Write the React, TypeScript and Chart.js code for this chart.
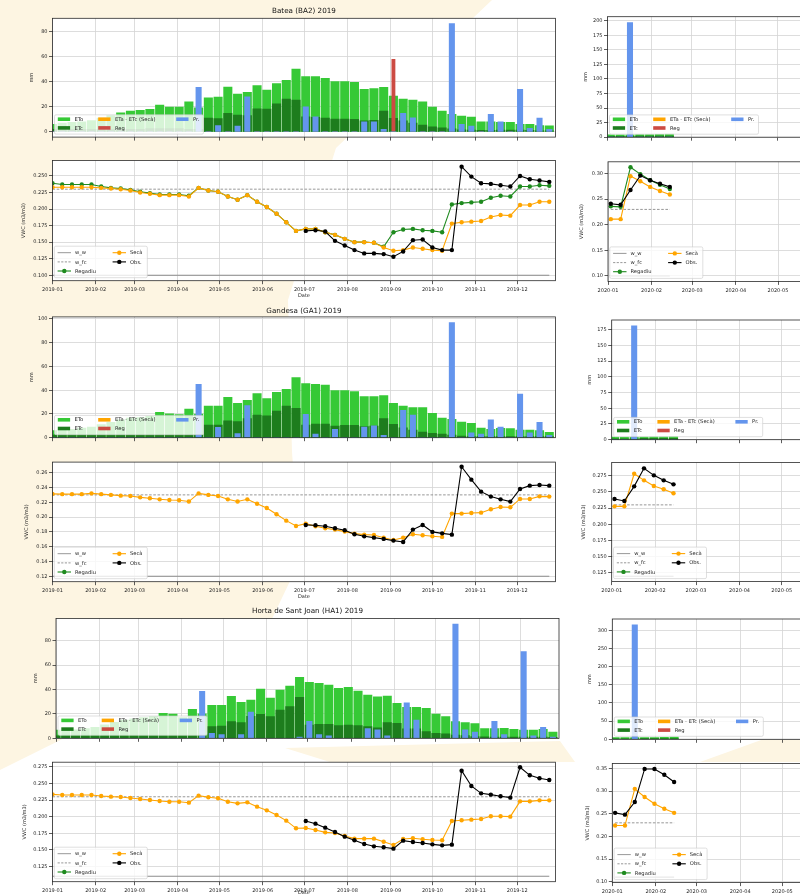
import React, { useEffect, useRef } from "react";
import { Chart, registerables } from "chart.js";

Chart.register(...registerables);

const FONT = "'DejaVu Sans', 'Liberation Sans', Arial, sans-serif";
const TICK_SIZE = 5;
const LEGEND_SIZE = 5.2;
const TITLE_SIZE = 7.2;
const TEXT_COLOR = "#262626";
const GRID_COLOR = "#d4d4d4";
const TICK_COLOR = "#333333";
const FRAME_COLOR = "#2a2a2a";
const CREAM = "#fdf5e2";

const ETO_COLOR = "#36c936";
const ETC_COLOR = "#1d7d1d";
const ETA_COLOR = "#ffa500";
const REG_COLOR = "#cc4b43";
const PR_COLOR = "#6495ed";
const SECA_COLOR = "#ffa500";
const REGADIU_COLOR = "#1e8a1e";
const OBS_COLOR = "#000000";
const W_COLOR = "#8c8c8c";

// ---------- x positions: days since 1 January ----------
const WEEKS_2019 = [0, 7, 14, 21, 28, 35, 42, 49, 56, 63, 70, 77, 84, 91, 98, 105, 112, 119, 126, 133, 140, 147, 154, 161, 168, 175, 182, 189, 196, 203, 210, 217, 224, 231, 238, 245, 252, 259, 266, 273, 280, 287, 294, 301, 308, 315, 322, 329, 336, 343, 350, 357];
const WEEKS_2020 = [2, 9, 16, 23, 30, 37, 44];

const MONTH_TICKS_2019 = [0, 31, 59, 90, 120, 151, 181, 212, 243, 273, 304, 334];
const MONTH_LABELS_2019 = ["2019-01", "2019-02", "2019-03", "2019-04", "2019-05", "2019-06", "2019-07", "2019-08", "2019-09", "2019-10", "2019-11", "2019-12"];
const MONTH_TICKS_2020 = [0, 31, 60, 91, 121];
const MONTH_LABELS_2020 = ["2020-01", "2020-02", "2020-03", "2020-04", "2020-05"];
const X_RANGE_2019 = [0, 361.4];
const X_RANGE_2020 = [0, 160];

// ---------- Batea (BA2) ----------
const BATEA_ETO = [6, 7, 7.5, 8, 9, 11, 13, 15.2, 16.6, 17.1, 17.9, 21.4, 19.8, 19.8, 24, 19.2, 27.2, 27.7, 35.7, 30.1, 31.5, 36.8, 33.3, 38.4, 41.1, 50.1, 44, 44, 42.7, 40, 40, 39.5, 33.9, 34.4, 35.5, 28.5, 26.1, 25.3, 24, 19.7, 16.5, 13.9, 12.5, 11.7, 8, 8, 7.5, 7.5, 5.9, 5.9, 5, 4.8];
const BATEA_ETC = [2, 2, 2, 2, 2, 2, 2, 2, 2, 2, 2.5, 2.5, 2.5, 2.5, 2, 2, 11, 10.5, 14.7, 13.3, 13, 18.4, 18.1, 22.4, 26.1, 25.3, 12, 11.5, 10.9, 10.1, 10.1, 9.9, 8.8, 9.1, 16.5, 10.7, 8.8, 6.9, 5.3, 4, 3.2, 2.4, 1.6, 1.3, 1.1, 1.1, 1.3, 1.3, 1.3, 1.1, 0.8, 0.8];
const BATEA_PR = [0, 0, 0, 0, 0, 0, 0, 0, 0, 0, 0, 0, 0, 0, 0, 35.5, 0, 5, 0, 4.5, 28, 0, 0, 0, 0, 0, 20, 12, 0, 0, 0, 0, 8, 8, 2, 0, 14.7, 11.2, 0, 0, 0, 86.4, 6, 4.5, 0, 13.9, 8, 0, 33.9, 2.7, 10.9, 1.9];
const BATEA_REG = [0, 0, 0, 0, 0, 0, 0, 0, 0, 0, 0, 0, 0, 0, 0, 0, 0, 0, 0, 0, 0, 0, 0, 0, 0, 0, 0, 0, 0, 0, 0, 0, 0, 0, 0, 57.9, 0, 0, 0, 0, 0, 0, 0, 0, 0, 0, 0, 0, 0, 0, 0, 0];
const BATEA_BAR_RANGE = [-4.3, 90.7];
const BATEA_BAR_TICKS = [0, 20, 40, 60, 80];

const BATEA_SECA = [0.233, 0.233, 0.233, 0.233, 0.233, 0.232, 0.231, 0.23, 0.228, 0.225, 0.223, 0.221, 0.221, 0.221, 0.219, 0.232, 0.228, 0.226, 0.219, 0.214, 0.221, 0.211, 0.203, 0.193, 0.18, 0.167, 0.17, 0.17, 0.165, 0.161, 0.155, 0.15, 0.15, 0.149, 0.142, 0.137, 0.138, 0.142, 0.14, 0.138, 0.137, 0.178, 0.18, 0.181, 0.182, 0.188, 0.191, 0.19, 0.206, 0.206, 0.211, 0.211];
const BATEA_REGADIU = [0.239, 0.237, 0.237, 0.237, 0.237, 0.234, 0.232, 0.231, 0.229, 0.226, 0.224, 0.222, 0.222, 0.222, 0.22, 0.232, 0.228, 0.226, 0.219, 0.214, 0.221, 0.211, 0.203, 0.193, 0.18, 0.167, 0.17, 0.17, 0.165, 0.161, 0.155, 0.15, 0.15, 0.149, 0.143, 0.165, 0.169, 0.17, 0.168, 0.167, 0.165, 0.207, 0.209, 0.21, 0.211, 0.217, 0.22, 0.219, 0.234, 0.234, 0.236, 0.235];
const BATEA_OBS = [null, null, null, null, null, null, null, null, null, null, null, null, null, null, null, null, null, null, null, null, null, null, null, null, null, null, 0.167, 0.168, 0.166, 0.152, 0.145, 0.138, 0.133, 0.133, 0.132, 0.128, 0.136, 0.153, 0.154, 0.142, 0.138, 0.138, 0.264, 0.249, 0.239, 0.238, 0.236, 0.234, 0.25, 0.245, 0.243, 0.241];
const BATEA_W_W = 0.1;
const BATEA_W_FC = 0.23;
const BATEA_VWC_RANGE = [0.0918, 0.2733];
const BATEA_VWC_TICKS = [0.1, 0.125, 0.15, 0.175, 0.2, 0.225, 0.25];

const BATEA_2020_ETO = [4, 4, 4, 4.5, 4.5, 5, 5.5];
const BATEA_2020_ETC = [1.5, 1.5, 1.5, 2, 2, 2, 2];
const BATEA_2020_PR = [0, 0, 197, 0, 0, 0, 0];
const BATEA_2020_BAR_RANGE = [0, 206.9];
const BATEA_2020_BAR_TICKS = [0, 25, 50, 75, 100, 125, 150, 175, 200];
const BATEA_2020_REGADIU = [0.236, 0.235, 0.3125, 0.299, 0.287, 0.278, 0.27];
const BATEA_2020_SECA = [0.211, 0.211, 0.295, 0.285, 0.274, 0.266, 0.259];
const BATEA_2020_OBS = [0.241, 0.239, 0.268, 0.296, 0.287, 0.28, 0.274];
const BATEA_2020_VWC_RANGE = [0.0894, 0.323];
const BATEA_2020_VWC_TICKS = [0.1, 0.15, 0.2, 0.25, 0.3];

// ---------- Gandesa (GA1) ----------
const GANDESA_ETO = [6, 6.5, 7, 8, 9, 11, 13, 15, 16.5, 17, 18, 21.3, 20.2, 19.5, 24.2, 20, 26.7, 26.7, 34, 28.9, 31.5, 37.1, 32.9, 38.2, 40.7, 50.6, 45.5, 45, 44.4, 39.6, 39.6, 38.8, 34.6, 34.6, 35.4, 28.9, 26.7, 25.3, 25.3, 20.5, 16.6, 15.4, 13.2, 12.1, 8.1, 7, 7.9, 7.6, 6.5, 6.5, 5.9, 4.5];
const GANDESA_ETC = [2.2, 2.2, 2.2, 2.2, 2.2, 2.2, 2.2, 2.2, 2.2, 2.2, 2.2, 2.2, 2.2, 2.2, 2.2, 2.2, 10.7, 10.7, 14.3, 13.5, 16, 19.1, 18.5, 22.5, 26.7, 24.7, 10.7, 11.5, 11.5, 9.8, 10.4, 10.4, 9.3, 9.8, 16, 11.2, 8.4, 6.5, 4.8, 3.7, 3.1, 2.2, 1.4, 1, 1, 1, 1, 1, 1, 1, 1, 1];
const GANDESA_PR = [0, 0, 0, 0, 0, 0, 0, 0, 0, 0, 0, 0, 0, 0, 0, 44.9, 0, 8.7, 0, 3.5, 27, 0, 0, 0, 0, 0, 19.6, 3, 0, 7, 0, 0, 9, 10, 2, 0, 23, 19, 0, 0, 0, 96.9, 0, 4, 3, 15, 9, 0, 36.8, 4, 13, 2];
const GANDESA_BAR_RANGE = [0, 101.75];
const GANDESA_BAR_TICKS = [0, 20, 40, 60, 80, 100];

const GANDESA_SECA = [0.2313, 0.231, 0.231, 0.231, 0.232, 0.231, 0.23, 0.229, 0.2285, 0.2267, 0.2254, 0.224, 0.223, 0.2227, 0.221, 0.232, 0.23, 0.2285, 0.224, 0.221, 0.224, 0.218, 0.2123, 0.2038, 0.1952, 0.188, 0.1912, 0.1876, 0.1849, 0.1831, 0.1804, 0.1777, 0.1763, 0.1759, 0.1722, 0.1691, 0.1722, 0.1768, 0.1754, 0.1741, 0.1732, 0.2047, 0.2047, 0.2056, 0.206, 0.2105, 0.2137, 0.2132, 0.2245, 0.2245, 0.228, 0.2277];
const GANDESA_OBS = [null, null, null, null, null, null, null, null, null, null, null, null, null, null, null, null, null, null, null, null, null, null, null, null, null, null, 0.1894, 0.189, 0.1876, 0.185, 0.1822, 0.1768, 0.174, 0.1722, 0.1705, 0.1682, 0.1664, 0.1831, 0.1894, 0.18, 0.178, 0.1763, 0.268, 0.2506, 0.2344, 0.2277, 0.224, 0.2209, 0.238, 0.2425, 0.2434, 0.2425];
const GANDESA_W_W = 0.12;
const GANDESA_W_FC = 0.23;
const GANDESA_VWC_RANGE = [0.1127, 0.2743];
const GANDESA_VWC_TICKS = [0.12, 0.14, 0.16, 0.18, 0.2, 0.22, 0.24, 0.26];

const GANDESA_2020_ETO = [4, 4, 4, 4.5, 5, 5, 5.5];
const GANDESA_2020_ETC = [1.5, 1.5, 1.5, 2, 2, 2, 2];
const GANDESA_2020_PR = [0, 0, 181.5, 0, 0, 0, 0];
const GANDESA_2020_BAR_RANGE = [0, 190.6];
const GANDESA_2020_BAR_TICKS = [0, 25, 50, 75, 100, 125, 150, 175];
const GANDESA_2020_SECA = [0.2277, 0.2277, 0.278, 0.2678, 0.259, 0.254, 0.2478];
const GANDESA_2020_OBS = [0.239, 0.236, 0.2585, 0.2863, 0.2755, 0.2678, 0.2616];
const GANDESA_2020_VWC_RANGE = [0.1117, 0.2953];
const GANDESA_2020_VWC_TICKS = [0.125, 0.15, 0.175, 0.2, 0.225, 0.25, 0.275];

// ---------- Horta de Sant Joan (HA1) ----------
const HORTA_ETO = [6.8, 6.5, 7, 8, 9, 11, 13, 15, 16, 17, 18, 20.5, 19.9, 17, 23.8, 20, 27, 27, 34.4, 29.5, 31.4, 40.4, 33, 39.6, 42.9, 50, 45.9, 45.1, 43.7, 41, 41.8, 38.8, 35.5, 33.9, 34.7, 28.7, 25.4, 25.4, 24.6, 19.9, 17.8, 13.7, 12.8, 12, 7.9, 8, 8.2, 7.4, 6.8, 6.8, 7.4, 5.2];
const HORTA_ETC = [2, 2, 2, 2, 2, 2, 2, 2, 2, 2, 2, 2, 2, 2, 2, 2, 9.6, 10.1, 13.7, 12.8, 18, 19.7, 17.8, 23.2, 26, 33.6, 10.9, 11.5, 11.5, 10.4, 10.9, 10.4, 9.6, 8.5, 12.8, 12.3, 7.7, 7.7, 5.5, 4.1, 3.6, 2.7, 2.2, 1.5, 1.2, 1, 1, 1, 1, 1, 1, 0.8];
const HORTA_PR = [0, 0, 0, 0, 0, 0, 0, 0, 0, 0, 0, 0, 0, 0, 0, 38.5, 4, 3, 0, 3, 21.5, 0, 0, 0, 0, 1, 14, 3, 2, 0, 0, 0, 8, 7, 2, 0, 29, 15, 0, 0, 0, 93.6, 7, 5, 0, 14, 3, 0, 71, 2, 9, 1];
const HORTA_BAR_RANGE = [0, 98.3];
const HORTA_BAR_TICKS = [0, 20, 40, 60, 80];

const HORTA_SECA = [0.2337, 0.2327, 0.2327, 0.2327, 0.2327, 0.2312, 0.2302, 0.2297, 0.2282, 0.2267, 0.2252, 0.2236, 0.2226, 0.2226, 0.2211, 0.2317, 0.2292, 0.2277, 0.2226, 0.2201, 0.2216, 0.2151, 0.2095, 0.2025, 0.194, 0.1824, 0.1829, 0.1799, 0.1763, 0.1753, 0.1708, 0.1668, 0.1668, 0.1668, 0.1622, 0.1572, 0.1663, 0.1673, 0.1658, 0.1648, 0.1643, 0.1934, 0.1945, 0.1955, 0.1965, 0.2005, 0.2005, 0.2, 0.2231, 0.2231, 0.2246, 0.2246];
const HORTA_OBS = [null, null, null, null, null, null, null, null, null, null, null, null, null, null, null, null, null, null, null, null, null, null, null, null, null, null, 0.1934, 0.1894, 0.1834, 0.1768, 0.1698, 0.1643, 0.1587, 0.1552, 0.1537, 0.1517, 0.1638, 0.1617, 0.1602, 0.1582, 0.1567, 0.1577, 0.2694, 0.2463, 0.2352, 0.2332, 0.2307, 0.2287, 0.2745, 0.2624, 0.2579, 0.2554];
const HORTA_W_W = 0.11;
const HORTA_W_FC = 0.23;
const HORTA_VWC_RANGE = [0.1018, 0.2822];
const HORTA_VWC_TICKS = [0.125, 0.15, 0.175, 0.2, 0.225, 0.25, 0.275];

const HORTA_2020_ETO = [4.5, 4.5, 4.5, 5, 5, 5.5, 6];
const HORTA_2020_ETC = [1.5, 1.5, 1.5, 2, 2, 2, 2];
const HORTA_2020_PR = [0, 0, 315.6, 0, 0, 0, 0];
const HORTA_2020_BAR_RANGE = [0, 331.4];
const HORTA_2020_BAR_TICKS = [0, 50, 100, 150, 200, 250, 300];
const HORTA_2020_SECA = [0.224, 0.224, 0.305, 0.287, 0.272, 0.261, 0.252];
const HORTA_2020_OBS = [0.252, 0.248, 0.276, 0.349, 0.349, 0.336, 0.32];
const HORTA_2020_VWC_RANGE = [0.098, 0.361];
const HORTA_2020_VWC_TICKS = [0.1, 0.15, 0.2, 0.25, 0.3, 0.35];

// ---------- legends ----------
const BAR_LEGEND = [
  { label: "ETo", color: ETO_COLOR, col: 0, row: 0 },
  { label: "ETc", color: ETC_COLOR, col: 0, row: 1 },
  { label: "ETa - ETc (Secà)", color: ETA_COLOR, col: 1, row: 0 },
  { label: "Reg", color: REG_COLOR, col: 1, row: 1 },
  { label: "Pr.", color: PR_COLOR, col: 2, row: 0 },
];
const VWC_LEGEND = [
  { label: "w_w", color: W_COLOR, dash: [], marker: false, col: 0, row: 0 },
  { label: "w_fc", color: W_COLOR, dash: [2.2, 1.4], marker: false, col: 0, row: 1 },
  { label: "Regadiu", color: REGADIU_COLOR, dash: [], marker: true, col: 0, row: 2 },
  { label: "Secà", color: SECA_COLOR, dash: [], marker: true, col: 1, row: 0 },
  { label: "Obs.", color: OBS_COLOR, dash: [], marker: true, col: 1, row: 1 },
];

function roundRect(ctx: any, x: number, y: number, w: number, h: number, r: number) {
  ctx.beginPath();
  ctx.moveTo(x + r, y);
  ctx.lineTo(x + w - r, y);
  ctx.arcTo(x + w, y, x + w, y + r, r);
  ctx.lineTo(x + w, y + h - r);
  ctx.arcTo(x + w, y + h, x + w - r, y + h, r);
  ctx.lineTo(x + r, y + h);
  ctx.arcTo(x, y + h, x, y + h - r, r);
  ctx.lineTo(x, y + r);
  ctx.arcTo(x, y, x + r, y, r);
  ctx.closePath();
}

function legendBox(ctx: any, x: number, y: number, w: number, h: number) {
  roundRect(ctx, x, y, w, h, 1.5);
  ctx.fillStyle = "rgba(255,255,255,0.8)";
  ctx.fill();
  ctx.strokeStyle = "rgba(204,204,204,0.9)";
  ctx.lineWidth = 0.7;
  ctx.setLineDash([]);
  ctx.stroke();
}

function drawBarLegend(ctx: any, a: any) {
  const w = 149;
  const h = 19.3;
  const x = a.left + 2;
  const y = a.bottom - 3 - h;
  legendBox(ctx, x, y, w, h);
  const colX = [3.3, 43.7, 121.7];
  const rowY = [4.4, 13.1];
  ctx.font = `${LEGEND_SIZE}px ${FONT}`;
  ctx.textAlign = "left";
  ctx.textBaseline = "middle";
  BAR_LEGEND.forEach((e) => {
    const px = x + colX[e.col];
    const py = y + rowY[e.row];
    ctx.fillStyle = e.color;
    ctx.fillRect(px, py - 1.8, 12.3, 3.6);
    ctx.fillStyle = TEXT_COLOR;
    ctx.fillText(e.label, px + 16.7, py + 0.3);
  });
}

function drawVwcLegend(ctx: any, a: any) {
  const w = 93;
  const h = 31.5;
  const x = a.left + 1.8;
  const y = a.bottom - 3 - h;
  legendBox(ctx, x, y, w, h);
  const colX = [3.3, 58.3];
  const rowY = [6.5, 15.7, 24.8];
  ctx.font = `${LEGEND_SIZE}px ${FONT}`;
  ctx.textAlign = "left";
  ctx.textBaseline = "middle";
  VWC_LEGEND.forEach((e) => {
    const px = x + colX[e.col];
    const py = y + rowY[e.row];
    ctx.strokeStyle = e.color;
    ctx.lineWidth = e.marker ? 1.1 : 0.9;
    ctx.setLineDash(e.dash);
    ctx.beginPath();
    ctx.moveTo(px, py);
    ctx.lineTo(px + 13.4, py);
    ctx.stroke();
    ctx.setLineDash([]);
    if (e.marker) {
      ctx.fillStyle = e.color;
      ctx.beginPath();
      ctx.arc(px + 6.7, py, 2.2, 0, Math.PI * 2);
      ctx.fill();
    }
    ctx.fillStyle = TEXT_COLOR;
    ctx.fillText(e.label, px + 17.4, py + 0.3);
  });
}

const decorPlugin = {
  id: "decor",
  beforeDraw(chart: any) {
    const { ctx, chartArea: a } = chart;
    ctx.save();
    ctx.fillStyle = "#ffffff";
    ctx.fillRect(a.left, a.top, a.right - a.left, a.bottom - a.top);
    ctx.restore();
  },
  afterDraw(chart: any, _args: any, opts: any) {
    const { ctx, chartArea: a } = chart;
    ctx.save();
    ctx.strokeStyle = FRAME_COLOR;
    ctx.lineWidth = 0.8;
    ctx.setLineDash([]);
    ctx.strokeRect(a.left, a.top, a.right - a.left, a.bottom - a.top);
    if (opts.title) {
      ctx.fillStyle = "#111111";
      ctx.font = `${TITLE_SIZE}px ${FONT}`;
      ctx.textAlign = "center";
      ctx.textBaseline = "middle";
      ctx.fillText(opts.title, (a.left + a.right) / 2, a.top - opts.titleGap);
    }
    if (opts.legend === "bars") drawBarLegend(ctx, a);
    if (opts.legend === "vwc") drawVwcLegend(ctx, a);
    ctx.restore();
  },
};

type Box = { l: number; t: number; r: number; b: number };
type Geom = { cx: number; cy: number; cw: number; ch: number; plot: Box };

function geom(plot: Box, cx: number, cy: number, bottom: number): Geom {
  const cw = Math.ceil(plot.r + 6 - cx);
  return { cx, cy, cw, ch: bottom - cy, plot };
}

function toPoints(xs: number[], ys: (number | null)[]) {
  const out: { x: number; y: number }[] = [];
  ys.forEach((y, i) => {
    if (y !== null && y !== undefined) out.push({ x: xs[i], y });
  });
  return out;
}

function baseOptions(g: Geom, legend: string, title?: string, titleY?: number) {
  return {
    responsive: false,
    maintainAspectRatio: false,
    animation: false,
    events: [],
    layout: {
      autoPadding: false,
      padding: { left: 0, top: g.plot.t - g.cy, right: g.cx + g.cw - g.plot.r, bottom: 0 },
    },
    plugins: {
      legend: { display: false },
      tooltip: { enabled: false },
      title: { display: false },
      decor: { legend, title: title || "", titleGap: titleY === undefined ? 0 : g.plot.t - titleY },
    },
  };
}

function xAxis(g: Geom, range: number[], ticks: number[], labels: string[], showLabels: boolean, dateY?: number) {
  const xh = g.cy + g.ch - g.plot.b;
  return {
    type: "linear",
    bounds: "data",
    min: range[0],
    max: range[1],
    offset: false,
    afterBuildTicks: (s: any) => {
      s.ticks = ticks.map((v) => ({ value: v }));
    },
    afterFit: (s: any) => {
      s.height = xh;
    },
    grid: { offset: false, color: GRID_COLOR, lineWidth: 0.8, drawTicks: true, tickLength: 3.5, tickColor: TICK_COLOR, tickWidth: 0.8 },
    border: { display: false },
    ticks: {
      display: showLabels,
      autoSkip: false,
      maxRotation: 0,
      minRotation: 0,
      padding: 2.5,
      color: TEXT_COLOR,
      font: { family: FONT, size: TICK_SIZE },
      callback: (_v: any, i: number) => labels[i],
    },
    title:
      dateY === undefined
        ? { display: false }
        : {
            display: true,
            text: "Date",
            color: TEXT_COLOR,
            font: { family: FONT, size: TICK_SIZE },
            padding: { top: 0, bottom: g.cy + g.ch - dateY - (TICK_SIZE * 1.2) / 2 },
          },
  };
}

function yAxis(g: Geom, range: number[], ticks: number[], decimals: number, title: string, titleX: number) {
  const yw = g.plot.l - g.cx;
  return {
    type: "linear",
    bounds: "data",
    min: range[0],
    max: range[1],
    afterBuildTicks: (s: any) => {
      s.ticks = ticks.map((v) => ({ value: v }));
    },
    afterFit: (s: any) => {
      s.width = yw;
    },
    grid: { color: GRID_COLOR, lineWidth: 0.8, drawTicks: true, tickLength: 3.5, tickColor: TICK_COLOR, tickWidth: 0.8 },
    border: { display: false },
    ticks: {
      autoSkip: false,
      padding: 1.5,
      color: TEXT_COLOR,
      font: { family: FONT, size: TICK_SIZE },
      callback: (v: any) => Number(v).toFixed(decimals),
    },
    title: {
      display: true,
      text: title,
      color: TEXT_COLOR,
      font: { family: FONT, size: TICK_SIZE },
      padding: { top: titleX - g.cx - (TICK_SIZE * 1.2) / 2, bottom: 0 },
    },
  };
}

type BarSpec = {
  g: Geom;
  weeks: number[];
  eto: number[];
  etc: number[];
  pr: number[];
  reg?: number[];
  xRange: number[];
  xTicks: number[];
  xLabels: string[];
  yRange: number[];
  yTicks: number[];
  yTitleX: number;
  title?: string;
  titleY?: number;
};

function barConfig(s: BarSpec) {
  const datasets: any[] = [
    { label: "Pr.", data: toPoints(s.weeks, s.pr), backgroundColor: PR_COLOR, barThickness: 5.4, order: 0 },
  ];
  if (s.reg) datasets.push({ label: "Reg", data: toPoints(s.weeks, s.reg), backgroundColor: REG_COLOR, barThickness: 3.2, order: 1 });
  datasets.push({ label: "ETc", data: toPoints(s.weeks, s.etc), backgroundColor: ETC_COLOR, barThickness: 8.4, order: 3 });
  datasets.push({ label: "ETo", data: toPoints(s.weeks, s.eto), backgroundColor: ETO_COLOR, barThickness: 8.4, order: 4 });
  datasets.forEach((d) => {
    d.grouped = false;
    d.borderWidth = 0;
  });
  const opts: any = baseOptions(s.g, "bars", s.title, s.titleY);
  opts.scales = {
    x: xAxis(s.g, s.xRange, s.xTicks, s.xLabels, false),
    y: yAxis(s.g, s.yRange, s.yTicks, 0, "mm", s.yTitleX),
  };
  return { type: "bar", data: { datasets }, options: opts, plugins: [decorPlugin] };
}

type VwcSpec = {
  g: Geom;
  weeks: number[];
  seca: (number | null)[];
  obs: (number | null)[];
  regadiu?: (number | null)[];
  wW: number;
  wFc: number;
  xRange: number[];
  xTicks: number[];
  xLabels: string[];
  yRange: number[];
  yTicks: number[];
  decimals: number;
  yTitleX: number;
  dateY?: number;
};

function vwcConfig(s: VwcSpec) {
  const first = s.weeks[0];
  const last = s.weeks[s.weeks.length - 1];
  const lineStyle = (color: string) => ({
    borderColor: color,
    backgroundColor: color,
    pointBackgroundColor: color,
    pointBorderColor: color,
    borderWidth: 1.1,
    pointRadius: 2.2,
    pointBorderWidth: 0,
    tension: 0,
  });
  const datasets: any[] = [
    { label: "Obs.", data: toPoints(s.weeks, s.obs), ...lineStyle(OBS_COLOR), order: 0 },
    { label: "Secà", data: toPoints(s.weeks, s.seca), ...lineStyle(SECA_COLOR), order: 1 },
  ];
  if (s.regadiu) datasets.push({ label: "Regadiu", data: toPoints(s.weeks, s.regadiu), ...lineStyle(REGADIU_COLOR), order: 2 });
  datasets.push({
    label: "w_fc",
    data: [{ x: first, y: s.wFc }, { x: last, y: s.wFc }],
    borderColor: W_COLOR,
    borderWidth: 0.9,
    borderDash: [2.6, 1.6],
    pointRadius: 0,
    order: 3,
  });
  datasets.push({
    label: "w_w",
    data: [{ x: first, y: s.wW }, { x: last, y: s.wW }],
    borderColor: W_COLOR,
    borderWidth: 1.1,
    pointRadius: 0,
    order: 4,
  });
  const opts: any = baseOptions(s.g, "vwc");
  opts.scales = {
    x: xAxis(s.g, s.xRange, s.xTicks, s.xLabels, true, s.dateY),
    y: yAxis(s.g, s.yRange, s.yTicks, s.decimals, "VWC (m3/m3)", s.yTitleX),
  };
  return { type: "line", data: { datasets }, options: opts, plugins: [decorPlugin] };
}

// ---------- panel geometry (plot boxes in page pixels) ----------
const G_BA_BAR = geom({ l: 52.5, t: 18.3, r: 555.4, b: 137.1 }, 0, 2, 144);
const G_BA_VWC = geom({ l: 52.5, t: 160.5, r: 555.4, b: 280.7 }, 0, 152, 300);
const G_GA_BAR = geom({ l: 52.5, t: 316.9, r: 555.4, b: 437.7 }, 0, 303, 445);
const G_GA_VWC = geom({ l: 52.5, t: 462.1, r: 555.4, b: 581.7 }, 0, 454, 601);
const G_HO_BAR = geom({ l: 56, t: 618.4, r: 559, b: 738.3 }, 0, 603, 745);
const G_HO_VWC = geom({ l: 52.5, t: 762.2, r: 555.4, b: 881.7 }, 0, 754, 897);

const G_BA_BAR_R = geom({ l: 607.5, t: 16.7, r: 832.3, b: 137.2 }, 566, 8, 144);
const G_BA_VWC_R = geom({ l: 608, t: 161.8, r: 832.8, b: 281.4 }, 566, 153, 296);
const G_GA_BAR_R = geom({ l: 611.7, t: 320, r: 836.5, b: 439.7 }, 570, 312, 446);
const G_GA_VWC_R = geom({ l: 611.7, t: 462.5, r: 836.5, b: 581.6 }, 570, 454, 596);
const G_HO_BAR_R = geom({ l: 612.3, t: 619, r: 837.1, b: 739.3 }, 570, 611, 746);
const G_HO_VWC_R = geom({ l: 612.3, t: 763.5, r: 837.1, b: 882.6 }, 570, 755, 897);

const PANELS: { key: string; g: Geom; config: any }[] = [
  {
    key: "ba-bar",
    g: G_BA_BAR,
    config: barConfig({ g: G_BA_BAR, weeks: WEEKS_2019, eto: BATEA_ETO, etc: BATEA_ETC, pr: BATEA_PR, reg: BATEA_REG, xRange: X_RANGE_2019, xTicks: MONTH_TICKS_2019, xLabels: MONTH_LABELS_2019, yRange: BATEA_BAR_RANGE, yTicks: BATEA_BAR_TICKS, yTitleX: 32, title: "Batea (BA2) 2019", titleY: 11 }),
  },
  {
    key: "ba-vwc",
    g: G_BA_VWC,
    config: vwcConfig({ g: G_BA_VWC, weeks: WEEKS_2019, seca: BATEA_SECA, obs: BATEA_OBS, regadiu: BATEA_REGADIU, wW: BATEA_W_W, wFc: BATEA_W_FC, xRange: X_RANGE_2019, xTicks: MONTH_TICKS_2019, xLabels: MONTH_LABELS_2019, yRange: BATEA_VWC_RANGE, yTicks: BATEA_VWC_TICKS, decimals: 3, yTitleX: 23.5, dateY: 296 }),
  },
  {
    key: "ga-bar",
    g: G_GA_BAR,
    config: barConfig({ g: G_GA_BAR, weeks: WEEKS_2019, eto: GANDESA_ETO, etc: GANDESA_ETC, pr: GANDESA_PR, xRange: X_RANGE_2019, xTicks: MONTH_TICKS_2019, xLabels: MONTH_LABELS_2019, yRange: GANDESA_BAR_RANGE, yTicks: GANDESA_BAR_TICKS, yTitleX: 32, title: "Gandesa (GA1) 2019", titleY: 311 }),
  },
  {
    key: "ga-vwc",
    g: G_GA_VWC,
    config: vwcConfig({ g: G_GA_VWC, weeks: WEEKS_2019, seca: GANDESA_SECA, obs: GANDESA_OBS, wW: GANDESA_W_W, wFc: GANDESA_W_FC, xRange: X_RANGE_2019, xTicks: MONTH_TICKS_2019, xLabels: MONTH_LABELS_2019, yRange: GANDESA_VWC_RANGE, yTicks: GANDESA_VWC_TICKS, decimals: 2, yTitleX: 27, dateY: 596.7 }),
  },
  {
    key: "ho-bar",
    g: G_HO_BAR,
    config: barConfig({ g: G_HO_BAR, weeks: WEEKS_2019, eto: HORTA_ETO, etc: HORTA_ETC, pr: HORTA_PR, xRange: X_RANGE_2019, xTicks: MONTH_TICKS_2019, xLabels: MONTH_LABELS_2019, yRange: HORTA_BAR_RANGE, yTicks: HORTA_BAR_TICKS, yTitleX: 36, title: "Horta de Sant Joan (HA1) 2019", titleY: 611.5 }),
  },
  {
    key: "ho-vwc",
    g: G_HO_VWC,
    config: vwcConfig({ g: G_HO_VWC, weeks: WEEKS_2019, seca: HORTA_SECA, obs: HORTA_OBS, wW: HORTA_W_W, wFc: HORTA_W_FC, xRange: X_RANGE_2019, xTicks: MONTH_TICKS_2019, xLabels: MONTH_LABELS_2019, yRange: HORTA_VWC_RANGE, yTicks: HORTA_VWC_TICKS, decimals: 3, yTitleX: 25, dateY: 893 }),
  },
  {
    key: "ba-bar-r",
    g: G_BA_BAR_R,
    config: barConfig({ g: G_BA_BAR_R, weeks: WEEKS_2020, eto: BATEA_2020_ETO, etc: BATEA_2020_ETC, pr: BATEA_2020_PR, xRange: X_RANGE_2020, xTicks: MONTH_TICKS_2020, xLabels: MONTH_LABELS_2020, yRange: BATEA_2020_BAR_RANGE, yTicks: BATEA_2020_BAR_TICKS, yTitleX: 586 }),
  },
  {
    key: "ba-vwc-r",
    g: G_BA_VWC_R,
    config: vwcConfig({ g: G_BA_VWC_R, weeks: WEEKS_2020, seca: BATEA_2020_SECA, obs: BATEA_2020_OBS, regadiu: BATEA_2020_REGADIU, wW: BATEA_W_W, wFc: BATEA_W_FC, xRange: X_RANGE_2020, xTicks: MONTH_TICKS_2020, xLabels: MONTH_LABELS_2020, yRange: BATEA_2020_VWC_RANGE, yTicks: BATEA_2020_VWC_TICKS, decimals: 2, yTitleX: 582 }),
  },
  {
    key: "ga-bar-r",
    g: G_GA_BAR_R,
    config: barConfig({ g: G_GA_BAR_R, weeks: WEEKS_2020, eto: GANDESA_2020_ETO, etc: GANDESA_2020_ETC, pr: GANDESA_2020_PR, xRange: X_RANGE_2020, xTicks: MONTH_TICKS_2020, xLabels: MONTH_LABELS_2020, yRange: GANDESA_2020_BAR_RANGE, yTicks: GANDESA_2020_BAR_TICKS, yTitleX: 590 }),
  },
  {
    key: "ga-vwc-r",
    g: G_GA_VWC_R,
    config: vwcConfig({ g: G_GA_VWC_R, weeks: WEEKS_2020, seca: GANDESA_2020_SECA, obs: GANDESA_2020_OBS, wW: GANDESA_W_W, wFc: GANDESA_W_FC, xRange: X_RANGE_2020, xTicks: MONTH_TICKS_2020, xLabels: MONTH_LABELS_2020, yRange: GANDESA_2020_VWC_RANGE, yTicks: GANDESA_2020_VWC_TICKS, decimals: 3, yTitleX: 583.5 }),
  },
  {
    key: "ho-bar-r",
    g: G_HO_BAR_R,
    config: barConfig({ g: G_HO_BAR_R, weeks: WEEKS_2020, eto: HORTA_2020_ETO, etc: HORTA_2020_ETC, pr: HORTA_2020_PR, xRange: X_RANGE_2020, xTicks: MONTH_TICKS_2020, xLabels: MONTH_LABELS_2020, yRange: HORTA_2020_BAR_RANGE, yTicks: HORTA_2020_BAR_TICKS, yTitleX: 590 }),
  },
  {
    key: "ho-vwc-r",
    g: G_HO_VWC_R,
    config: vwcConfig({ g: G_HO_VWC_R, weeks: WEEKS_2020, seca: HORTA_2020_SECA, obs: HORTA_2020_OBS, wW: HORTA_W_W, wFc: HORTA_W_FC, xRange: X_RANGE_2020, xTicks: MONTH_TICKS_2020, xLabels: MONTH_LABELS_2020, yRange: HORTA_2020_VWC_RANGE, yTicks: HORTA_2020_VWC_TICKS, decimals: 2, yTitleX: 588 }),
  },
];

const CREAM_SHAPES = [
  "polygon(0px 0px, 492px 0px, 336px 148px, 288px 300px, 292px 452px, 300px 560px, 262px 640px, 0px 770px)",
  "polygon(285px 748px, 560px 741px, 575px 762px, 330px 762px)",
  "polygon(700px 762px, 800px 726px, 800px 762px)",
];

function ChartPanel({ g, config }: { g: Geom; config: any }) {
  const ref = useRef<HTMLCanvasElement | null>(null);
  useEffect(() => {
    if (!ref.current) return;
    const chart = new Chart(ref.current, config);
    return () => chart.destroy();
  }, [config]);
  return (
    <canvas
      ref={ref}
      width={g.cw}
      height={g.ch}
      style={{ position: "absolute", left: g.cx, top: g.cy, width: g.cw, height: g.ch }}
    />
  );
}

export default function App() {
  return (
    <div
      style={{
        position: "absolute",
        left: 0,
        top: 0,
        width: 800,
        height: 896,
        overflow: "hidden",
        background: "#ffffff",
      }}
    >
      {CREAM_SHAPES.map((clip, i) => (
        <div key={i} style={{ position: "absolute", left: 0, top: 0, width: 800, height: 896, background: CREAM, clipPath: clip }} />
      ))}
      {PANELS.map((p) => (
        <ChartPanel key={p.key} g={p.g} config={p.config} />
      ))}
    </div>
  );
}
